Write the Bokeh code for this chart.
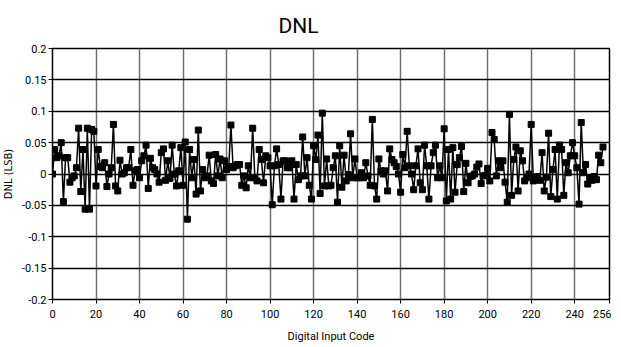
from bokeh.plotting import figure
from bokeh.models import FixedTicker, Title, ColumnDataSource
from bokeh.embed import file_html
from bokeh.resources import INLINE

title_text = "DNL"
x_label = "Digital Input Code"
y_label = "DNL (LSB)"
x_ticks = [0, 20, 40, 60, 80, 100, 120, 140, 160, 180, 200, 220, 240, 256]
y_ticks = [-0.2, -0.15, -0.1, -0.05, 0, 0.05, 0.1, 0.15, 0.2]
y_tick_labels = ["-0.2", "-0.15", "-0.1", "-0.05", "0", "0.05", "0.1", "0.15", "0.2"]

dnl = [
    0.0, 0.039, 0.026, 0.029, 0.05, -0.044, 0.026, 0.026, -0.013, -0.006,
    -0.003, 0.01, 0.073, -0.028, 0.039, -0.056, 0.073, -0.056, 0.071, 0.068,
    -0.019, 0.039, 0.012, 0.01, 0.018, -0.02, 0.0, 0.01, 0.079, -0.019,
    -0.027, 0.022, 0.0, 0.002, 0.01, 0.01, 0.039, -0.018, 0.005, 0.007,
    -0.006, 0.021, 0.029, 0.046, -0.023, 0.025, 0.01, 0.007, 0.0, -0.013,
    0.034, 0.04, -0.01, 0.021, -0.007, 0.046, 0.0, -0.019, 0.005, 0.042,
    -0.018, 0.051, -0.072, 0.039, -0.006, 0.023, -0.032, 0.07, -0.027, 0.007,
    -0.006, -0.003, 0.03, -0.011, -0.015, 0.031, -0.003, 0.024, -0.006, 0.021,
    0.007, 0.012, 0.078, 0.01, 0.013, 0.015, 0.015, -0.018, -0.003, -0.022,
    0.013, -0.006, 0.073, -0.006, -0.011, 0.039, 0.023, -0.014, 0.029, 0.026,
    0.013, -0.049, 0.013, 0.04, 0.015, -0.04, 0.021, 0.021, 0.01, 0.01,
    0.021, -0.04, 0.015, -0.009, -0.003, 0.059, -0.003, 0.026, -0.018, -0.04,
    0.045, 0.023, 0.062, -0.031, 0.097, -0.019, 0.024, -0.019, -0.018, 0.01,
    0.029, -0.045, 0.045, -0.021, 0.03, -0.011, -0.001, 0.064, -0.006, 0.024,
    -0.006, -0.006, 0.002, -0.006, 0.018, -0.003, -0.018, 0.087, -0.019, -0.04,
    0.024, 0.005, 0.0, 0.005, -0.027, 0.04, 0.023, 0.018, 0.012, 0.0,
    -0.029, 0.031, 0.01, 0.068, 0.013, 0.0, -0.025, 0.013, 0.04, -0.014,
    -0.025, 0.046, 0.013, -0.04, 0.013, 0.034, 0.046, -0.006, 0.013, -0.006,
    0.072, -0.043, 0.039, -0.04, 0.042, -0.029, 0.015, 0.026, 0.044, -0.028,
    0.017, -0.014, -0.004, -0.003, 0.0, 0.011, 0.016, -0.015, -0.003, -0.002,
    0.009, -0.011, 0.066, 0.055, -0.003, 0.021, 0.01, 0.021, -0.013, -0.045,
    0.095, -0.034, 0.023, 0.043, -0.027, 0.037, 0.021, -0.011, -0.006, 0.0,
    0.079, -0.011, -0.006, -0.004, -0.01, 0.034, -0.027, -0.005, 0.065, -0.036,
    0.007, 0.039, -0.04, 0.046, 0.039, -0.034, 0.018, 0.002, 0.029, 0.05,
    0.029, 0.01, -0.048, 0.082, 0.002, 0.015, -0.016, -0.006, -0.01, -0.004,
    -0.009, 0.03, 0.018, 0.043,
]
codes = list(range(len(dnl)))

FONT = "Roboto"

p = figure(
    frame_width=557, frame_height=251,
    x_range=(0, 256), y_range=(-0.2, 0.2),
    output_backend="svg", toolbar_location=None,
    min_border_left=46, min_border_right=2, min_border_top=47, min_border_bottom=41,
    background_fill_color="white", border_fill_color="white",
)
p.title.visible = False
t = Title(text=title_text, align="left", offset=226, text_font=FONT,
          text_font_size="21px", text_font_style="normal", text_color="black",
          standoff=22)
p.add_layout(t, "above")

p.outline_line_color = "black"
p.outline_line_width = 1.5

src = ColumnDataSource(dict(x=codes, y=dnl))
p.line("x", "y", source=src, line_color="black", line_width=1.5)
p.scatter("x", "y", source=src, marker="square", size=6, fill_color="black", line_color="black")

p.xaxis.ticker = FixedTicker(ticks=x_ticks)
p.yaxis.ticker = FixedTicker(ticks=y_ticks)
p.yaxis.major_label_overrides = {v: s for v, s in zip(y_ticks, y_tick_labels)}
p.xaxis.axis_label = x_label
p.yaxis.axis_label = y_label

for ax in (p.xaxis, p.yaxis):
    ax.axis_line_color = "black"
    ax.major_tick_line_color = "black"
    ax.major_tick_out = 4
    ax.major_tick_in = 0
    ax.minor_tick_line_color = None
    ax.major_label_text_font = FONT
    ax.major_label_text_font_size = "11px"
    ax.major_label_text_color = "black"
    ax.axis_label_text_font_style = "normal"
    ax.axis_label_text_color = "black"

p.xaxis.axis_label_text_font = FONT
p.xaxis.axis_label_text_font_size = "11px"
p.xaxis.axis_label_standoff = 9
p.xaxis.major_label_standoff = 6
p.yaxis.axis_label_text_font = "DejaVu Sans"
p.yaxis.axis_label_text_font_size = "10px"
p.yaxis.axis_label_standoff = 5
p.yaxis.major_label_standoff = 2

p.xgrid.ticker = FixedTicker(ticks=x_ticks)
p.ygrid.ticker = FixedTicker(ticks=y_ticks)
p.xgrid.grid_line_color = "#707070"
p.xgrid.grid_line_width = 1.5
p.ygrid.grid_line_color = "black"
p.ygrid.grid_line_width = 1.5

open("out.html", "w").write(file_html(p, INLINE))
